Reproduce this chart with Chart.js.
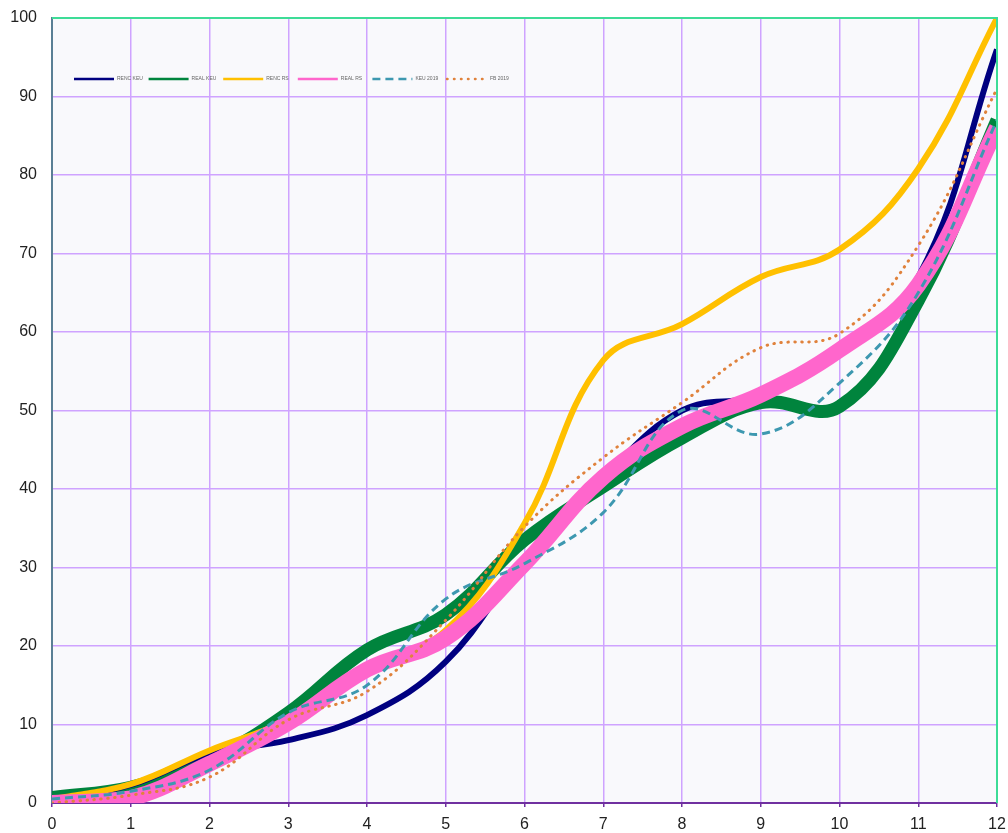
<!DOCTYPE html>
<html>
<head>
<meta charset="utf-8">
<script src="https://cdn.jsdelivr.net/npm/chart.js@4.4.0/dist/chart.umd.min.js"></script>
<style>
  html, body { margin: 0; padding: 0; background: #ffffff; }
  #wrap { width: 1008px; height: 833px; }
</style>
</head>
<body>
<div id="wrap"><canvas id="chart"></canvas></div>
<script>
// x positions (months) and series values
const months = [0, 1, 2, 3, 4, 5, 6, 7, 8, 9, 10, 11, 12];
const rencKeu = [0.5, 2.3, 6.3, 8, 11.2, 18, 31, 41.5, 50, 52, 58, 67, 96];
const realKeu = [0.7, 2, 5.5, 11.5, 19.5, 24, 33.5, 40.3, 46.5, 51, 50.5, 64, 87];
const rencRs = [0.5, 2.4, 6.7, 10.6, 17, 22, 35.6, 56.4, 61, 67, 70.5, 80.8, 100];
const realRs = [0, 0.6, 5, 10.2, 17, 21, 30.5, 41.5, 48, 52, 57.7, 66, 86];
const keu2019 = [0.5, 1.5, 4.2, 11.5, 15, 26, 30.5, 37, 50, 47, 53.5, 65, 87];
const fb2019 = [0, 1, 3.3, 10.6, 14.2, 23.3, 35.2, 44, 51, 58, 59.8, 71, 91];
const seriesNames = ['RENC KEU', 'REAL KEU', 'RENC RS', 'REAL RS', 'KEU 2019', 'FB 2019'];
const yTicks = [0, 10, 20, 30, 40, 50, 60, 70, 80, 90, 100];

const toPoints = vals => months.map((m, i) => ({ x: m, y: vals[i] }));
const tickFont = { family: '"Liberation Sans", Arial, sans-serif', size: 16 };

// plot background, top/right frame and the in-plot legend
const plotDecor = {
    id: 'plotDecor',
    beforeDraw(chart) {
        const { ctx, chartArea: a } = chart;
        ctx.save();
        ctx.fillStyle = '#f9f9fc';
        ctx.fillRect(a.left, a.top, a.right - a.left, a.bottom - a.top);
        ctx.restore();
    },
    afterDraw(chart) {
        const { ctx, chartArea: a } = chart;
        ctx.save();
        ctx.strokeStyle = '#3ddc97';
        ctx.lineWidth = 2;
        ctx.beginPath();
        ctx.moveTo(a.left, a.top);
        ctx.lineTo(a.right, a.top);
        ctx.lineTo(a.right, a.bottom);
        ctx.stroke();

        // legend
        ctx.font = '5px "Liberation Sans", Arial, sans-serif';
        ctx.textBaseline = 'middle';
        chart.data.datasets.forEach((ds, i) => {
            const x0 = 74 + i * 74.6;
            const y0 = 79;
            ctx.strokeStyle = ds.borderColor;
            ctx.lineWidth = 2.5;
            ctx.lineCap = ds.borderCapStyle || 'butt';
            ctx.setLineDash(ds.borderDash || []);
            ctx.beginPath();
            ctx.moveTo(x0, y0);
            ctx.lineTo(x0 + 40, y0);
            ctx.stroke();
            ctx.setLineDash([]);
            ctx.fillStyle = '#666666';
            ctx.fillText(ds.label, x0 + 43, y0);
        });
        ctx.restore();
    }
};

const ctx = document.getElementById('chart').getContext('2d');
new Chart(ctx, {
    type: 'line',
    data: {
        datasets: [
            { label: seriesNames[0], data: toPoints(rencKeu), borderColor: '#000080', borderWidth: 6, order: 5 },
            { label: seriesNames[1], data: toPoints(realKeu), borderColor: '#00843d', borderWidth: 13, order: 6 },
            { label: seriesNames[2], data: toPoints(rencRs), borderColor: '#ffc000', borderWidth: 6, order: 4 },
            { label: seriesNames[3], data: toPoints(realRs), borderColor: '#ff66cc', borderWidth: 16, order: 3 },
            { label: seriesNames[4], data: toPoints(keu2019), borderColor: '#3d98b0', borderWidth: 3, borderDash: [8, 5], order: 2 },
            { label: seriesNames[5], data: toPoints(fb2019), borderColor: '#e0823c', borderWidth: 3, borderDash: [0.5, 6.5], borderCapStyle: 'round', order: 1 }
        ].map(ds => Object.assign({ pointRadius: 0, tension: 0.4, fill: false, clip: 0 }, ds))
    },
    options: {
        responsive: true,
        maintainAspectRatio: false,
        animation: false,
        layout: { padding: { top: 18, right: 11, left: 0, bottom: 0 } },
        plugins: {
            legend: { display: false },
            tooltip: { enabled: false }
        },
        scales: {
            x: {
                type: 'linear',
                min: 0,
                max: 12,
                afterFit: s => { s.height = 30; s.paddingLeft = 0; s.paddingRight = 0; },
                ticks: { stepSize: 1, padding: 8, color: '#222222', font: tickFont },
                grid: { color: '#cfa3ff', lineWidth: 1.5, tickLength: 4, tickColor: '#7030a0' },
                border: { color: '#7030a0', width: 2 }
            },
            y: {
                min: 0,
                max: 100,
                afterFit: s => { s.width = 52; s.paddingTop = 0; s.paddingBottom = 0; },
                afterBuildTicks: s => { s.ticks = yTicks.map(v => ({ value: v })); },
                ticks: { padding: 15, color: '#222222', font: tickFont },
                grid: { color: '#cfa3ff', lineWidth: 1.5, drawTicks: false },
                border: { color: '#5a7f95', width: 2 }
            }
        }
    },
    plugins: [plotDecor]
});
</script>
</body>
</html>
